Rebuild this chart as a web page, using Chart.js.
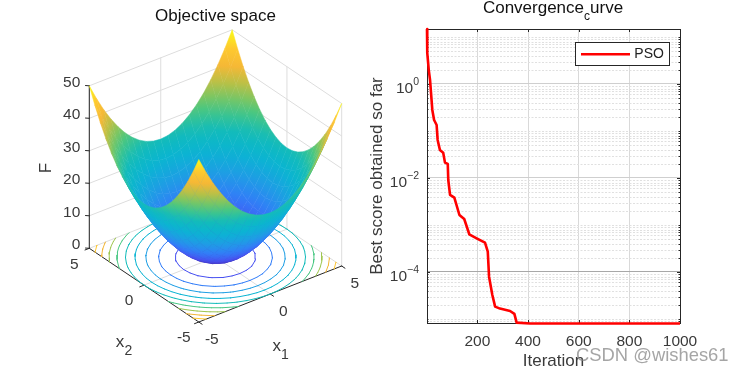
<!DOCTYPE html>
<html>
<head>
<meta charset="utf-8">
<title>Objective space / Convergence curve</title>
<script src="https://cdn.jsdelivr.net/npm/chart.js@4/dist/chart.umd.js"></script>
<style>
  html, body { margin: 0; padding: 0; background: #fff; overflow: hidden; }
  #space { position: absolute; left: 0; top: 0; }
  #curve { position: absolute; left: 360px; top: 0; }
</style>
</head>
<body>
<canvas id="space" width="360" height="373"></canvas>
<canvas id="curve" width="382" height="373"></canvas>
<script>
// surface table
const x1Values = [-5, -4.5, -4, -3.5, -3, -2.5, -2, -1.5, -1, -0.5, 0, 0.5, 1, 1.5, 2, 2.5, 3, 3.5, 4, 4.5, 5];
const x2Values = [-5, -4.5, -4, -3.5, -3, -2.5, -2, -1.5, -1, -0.5, 0, 0.5, 1, 1.5, 2, 2.5, 3, 3.5, 4, 4.5, 5];
const surfaceF = [
  [50, 45.25, 41, 37.25, 34, 31.25, 29, 27.25, 26, 25.25, 25, 25.25, 26, 27.25, 29, 31.25, 34, 37.25, 41, 45.25, 50],
  [45.25, 40.5, 36.25, 32.5, 29.25, 26.5, 24.25, 22.5, 21.25, 20.5, 20.25, 20.5, 21.25, 22.5, 24.25, 26.5, 29.25, 32.5, 36.25, 40.5, 45.25],
  [41, 36.25, 32, 28.25, 25, 22.25, 20, 18.25, 17, 16.25, 16, 16.25, 17, 18.25, 20, 22.25, 25, 28.25, 32, 36.25, 41],
  [37.25, 32.5, 28.25, 24.5, 21.25, 18.5, 16.25, 14.5, 13.25, 12.5, 12.25, 12.5, 13.25, 14.5, 16.25, 18.5, 21.25, 24.5, 28.25, 32.5, 37.25],
  [34, 29.25, 25, 21.25, 18, 15.25, 13, 11.25, 10, 9.25, 9, 9.25, 10, 11.25, 13, 15.25, 18, 21.25, 25, 29.25, 34],
  [31.25, 26.5, 22.25, 18.5, 15.25, 12.5, 10.25, 8.5, 7.25, 6.5, 6.25, 6.5, 7.25, 8.5, 10.25, 12.5, 15.25, 18.5, 22.25, 26.5, 31.25],
  [29, 24.25, 20, 16.25, 13, 10.25, 8, 6.25, 5, 4.25, 4, 4.25, 5, 6.25, 8, 10.25, 13, 16.25, 20, 24.25, 29],
  [27.25, 22.5, 18.25, 14.5, 11.25, 8.5, 6.25, 4.5, 3.25, 2.5, 2.25, 2.5, 3.25, 4.5, 6.25, 8.5, 11.25, 14.5, 18.25, 22.5, 27.25],
  [26, 21.25, 17, 13.25, 10, 7.25, 5, 3.25, 2, 1.25, 1, 1.25, 2, 3.25, 5, 7.25, 10, 13.25, 17, 21.25, 26],
  [25.25, 20.5, 16.25, 12.5, 9.25, 6.5, 4.25, 2.5, 1.25, 0.5, 0.25, 0.5, 1.25, 2.5, 4.25, 6.5, 9.25, 12.5, 16.25, 20.5, 25.25],
  [25, 20.25, 16, 12.25, 9, 6.25, 4, 2.25, 1, 0.25, 0, 0.25, 1, 2.25, 4, 6.25, 9, 12.25, 16, 20.25, 25],
  [25.25, 20.5, 16.25, 12.5, 9.25, 6.5, 4.25, 2.5, 1.25, 0.5, 0.25, 0.5, 1.25, 2.5, 4.25, 6.5, 9.25, 12.5, 16.25, 20.5, 25.25],
  [26, 21.25, 17, 13.25, 10, 7.25, 5, 3.25, 2, 1.25, 1, 1.25, 2, 3.25, 5, 7.25, 10, 13.25, 17, 21.25, 26],
  [27.25, 22.5, 18.25, 14.5, 11.25, 8.5, 6.25, 4.5, 3.25, 2.5, 2.25, 2.5, 3.25, 4.5, 6.25, 8.5, 11.25, 14.5, 18.25, 22.5, 27.25],
  [29, 24.25, 20, 16.25, 13, 10.25, 8, 6.25, 5, 4.25, 4, 4.25, 5, 6.25, 8, 10.25, 13, 16.25, 20, 24.25, 29],
  [31.25, 26.5, 22.25, 18.5, 15.25, 12.5, 10.25, 8.5, 7.25, 6.5, 6.25, 6.5, 7.25, 8.5, 10.25, 12.5, 15.25, 18.5, 22.25, 26.5, 31.25],
  [34, 29.25, 25, 21.25, 18, 15.25, 13, 11.25, 10, 9.25, 9, 9.25, 10, 11.25, 13, 15.25, 18, 21.25, 25, 29.25, 34],
  [37.25, 32.5, 28.25, 24.5, 21.25, 18.5, 16.25, 14.5, 13.25, 12.5, 12.25, 12.5, 13.25, 14.5, 16.25, 18.5, 21.25, 24.5, 28.25, 32.5, 37.25],
  [41, 36.25, 32, 28.25, 25, 22.25, 20, 18.25, 17, 16.25, 16, 16.25, 17, 18.25, 20, 22.25, 25, 28.25, 32, 36.25, 41],
  [45.25, 40.5, 36.25, 32.5, 29.25, 26.5, 24.25, 22.5, 21.25, 20.5, 20.25, 20.5, 21.25, 22.5, 24.25, 26.5, 29.25, 32.5, 36.25, 40.5, 45.25],
  [50, 45.25, 41, 37.25, 34, 31.25, 29, 27.25, 26, 25.25, 25, 25.25, 26, 27.25, 29, 31.25, 34, 37.25, 41, 45.25, 50]
];
const contourLevels = [5, 10, 15, 20, 25, 30, 35, 40, 45];
const fTicks = [0, 10, 20, 30, 40, 50];
const x1Ticks = [-5, 0, 5];
const x2Ticks = [-5, 0, 5];

// convergence curve
const iterations = [1, 2, 8, 13, 18, 22, 29, 39, 43, 52, 65, 72, 83, 85, 92, 109, 129, 148, 168, 197, 230, 241, 246, 259, 270, 289, 329, 346, 355, 408, 1000];
const bestScore = [14.8, 4.57, 1.98, 1.22, 0.537, 0.28, 0.171, 0.134, 0.0645, 0.0394, 0.0345, 0.0212, 0.0199, 0.00906, 0.00435, 0.00381, 0.00163, 0.00134, 0.000634, 0.000521, 0.00042, 0.00027, 0.0000794, 0.0000324, 0.0000183, 0.0000166, 0.0000148, 0.0000128, 0.00000834, 0.00000802, 0.000008];
const iterationTicks = [200, 400, 600, 800, 1000];
const scoreExponents = [0, -2, -4];

const parula = [
  [62, 38, 168], [71, 80, 240], [50, 125, 248], [30, 158, 228], [10, 180, 210], [18, 187, 186],
  [72, 199, 130], [158, 197, 78], [243, 182, 55], [254, 198, 48], [249, 251, 21]
];
const FONT = '"Liberation Sans", Arial, sans-serif';
const INK = '#3a3a3a';

function fColor(f) {
  const t = Math.max(0, Math.min(1, f / 50)) * (parula.length - 1);
  const i = Math.min(parula.length - 2, Math.floor(t));
  const c = parula[i].map((v, k) => Math.round(v + (parula[i + 1][k] - v) * (t - i)));
  return `rgb(${c[0]},${c[1]},${c[2]})`;
}

// orthographic view of the left axes
function project(x1, x2, f) {
  return { x: 215.5 + 14.29 * x1 - 10.95 * x2, y: 257.15 - 5.6 * x1 - 7.37 * x2 - 3.25 * f };
}

function lineSet(points, color, width) {
  return {
    data: points.map((p) => (p ? project(p[0], p[1], p[2]) : { x: NaN, y: NaN })),
    showLine: true, pointRadius: 0, borderColor: color, borderWidth: width,
    borderCapStyle: 'round', tension: 0
  };
}

// each cell is painted with a gradient following F across it
function cellPaint(ctx) {
  const ds = ctx.dataset;
  const lo = Math.min(...ds.cellF), hi = Math.max(...ds.cellF);
  const flat = fColor((lo + hi) / 2);
  const sx = ctx.chart.scales.x, sy = ctx.chart.scales.y;
  if (!sx || !sy) return flat;
  const px = (p) => ({ x: sx.getPixelForValue(p.x), y: sy.getPixelForValue(p.y) });
  const [a, b, c, d] = ds.data.slice(0, 4).map(px);
  const [fa, fb, fc, fd] = ds.cellF;
  // mean edge vectors, so neighbouring cells meet evenly
  const dx1 = (b.x - a.x + c.x - d.x) / 2, dy1 = (b.y - a.y + c.y - d.y) / 2, df1 = (fb - fa + fc - fd) / 2;
  const dx2 = (d.x - a.x + c.x - b.x) / 2, dy2 = (d.y - a.y + c.y - b.y) / 2, df2 = (fd - fa + fc - fb) / 2;
  const det = dx1 * dy2 - dx2 * dy1;
  if (!Number.isFinite(det) || Math.abs(det) < 1) return flat;
  const ga = (df1 * dy2 - df2 * dy1) / det, gb = (dx1 * df2 - dx2 * df1) / det;
  const g2 = ga * ga + gb * gb;
  if (g2 < 1e-6) return flat;
  const mx = (a.x + b.x + c.x + d.x) / 4, my = (a.y + b.y + c.y + d.y) / 4, mf = (fa + fb + fc + fd) / 4;
  const s = (lo - mf) / g2, e = (hi - mf) / g2;
  const grad = ctx.chart.ctx.createLinearGradient(mx + ga * s, my + gb * s, mx + ga * e, my + gb * e);
  grad.addColorStop(0, fColor(lo));
  grad.addColorStop(0.5, fColor((lo + hi) / 2));
  grad.addColorStop(1, fColor(hi));
  return grad;
}

function buildSurface() {
  const cells = [];
  for (let j = 0; j < x2Values.length - 1; j++) {
    for (let i = 0; i < x1Values.length - 1; i++) {
      const corners = [[i, j], [i + 1, j], [i + 1, j + 1], [i, j + 1]];
      const pts = corners.map(([a, b]) => project(x1Values[a], x2Values[b], surfaceF[b][a]));
      cells.push({
        depth: 0.608 * (x1Values[i] + x1Values[i + 1]) + 0.794 * (x2Values[j] + x2Values[j + 1]),
        set: {
          data: [...pts, pts[0]],
          cellF: corners.map(([a, b]) => surfaceF[b][a]),
          showLine: true, pointRadius: 0, fill: 'shape', tension: 0,
          backgroundColor: cellPaint, borderColor: cellPaint, borderWidth: 0.5
        }
      });
    }
  }
  // the first dataset ends up on top, so nearest cells go first
  return cells.sort((p, q) => p.depth - q.depth).map((c) => c.set);
}

function buildContours() {
  return contourLevels.map((level) => {
    const pts = [];
    for (let j = 0; j < x2Values.length - 1; j++) {
      for (let i = 0; i < x1Values.length - 1; i++) {
        const c = [[i, j], [i + 1, j], [i + 1, j + 1], [i, j + 1]];
        const hits = [];
        for (let k = 0; k < 4; k++) {
          const p = c[k], q = c[(k + 1) % 4];
          const fp = surfaceF[p[1]][p[0]], fq = surfaceF[q[1]][q[0]];
          if ((fp < level) !== (fq < level)) {
            const t = (level - fp) / (fq - fp);
            hits.push([
              x1Values[p[0]] + (x1Values[q[0]] - x1Values[p[0]]) * t,
              x2Values[p[1]] + (x2Values[q[1]] - x2Values[p[1]]) * t,
              0
            ]);
          }
        }
        if (hits.length >= 2) pts.push(hits[0], hits[1], null);
      }
    }
    return lineSet(pts, fColor(level), 1);
  });
}

function buildFrame() {
  const grid = '#dddddd', axis = '#262626', sets = [];
  sets.push(lineSet([[-5, 5, 0], [-5, -5, 0], [5, -5, 0]], axis, 1));
  sets.push(lineSet([[-5, 5, 0], [-5, 5, 50]], axis, 1));
  fTicks.forEach((f) => {
    sets.push(lineSet([[-5, 5, f], [-5.15, 5.15, f]], axis, 1));
  });
  x1Ticks.forEach((v) => sets.push(lineSet([[v, -5, 0], [v, -5.3, 0]], axis, 1)));
  x2Ticks.forEach((v) => sets.push(lineSet([[-5, v, 0], [-5.3, v, 0]], axis, 1)));
  fTicks.forEach((f) => sets.push(lineSet([[-5, 5, f], [5, 5, f], [5, -5, f]], grid, 1)));
  [[-5, 5], [0, 5], [5, 5], [5, 0], [5, -5]].forEach((c) => {
    sets.push(lineSet([[c[0], c[1], 0], [c[0], c[1], 50]], grid, 1));
  });
  sets.push(lineSet([[0, -5, 0], [0, 5, 0]], grid, 1));
  sets.push(lineSet([[-5, 0, 0], [5, 0, 0]], grid, 1));
  return sets;
}

function text(ctx, str, x, y, font, color, align) {
  ctx.font = font;
  ctx.fillStyle = color;
  ctx.textAlign = align || 'center';
  ctx.textBaseline = 'middle';
  ctx.fillText(str, x, y);
}

const spaceLabels = {
  id: 'spaceLabels',
  afterDraw(chart) {
    const ctx = chart.ctx, sx = chart.scales.x, sy = chart.scales.y;
    const tickFont = `15.5px ${FONT}`, labelFont = `17px ${FONT}`;
    const at = (x1, x2, f) => {
      const p = project(x1, x2, f);
      return { x: sx.getPixelForValue(p.x), y: sy.getPixelForValue(p.y) };
    };
    ctx.save();
    text(ctx, 'Objective space', 215.5, 16, `17px ${FONT}`, '#111', 'center');
    fTicks.forEach((f) => {
      const p = at(-5, 5, f);
      text(ctx, String(f), p.x - 9, p.y - 3.5, tickFont, INK, 'right');
    });
    x2Ticks.forEach((v) => {
      const p = at(-5, v, 0);
      text(ctx, String(v), p.x - 15, p.y + 16, tickFont, INK);
    });
    x1Ticks.forEach((v) => {
      const p = at(v, -5, 0);
      text(ctx, String(v), p.x + 13, p.y + 17.5, tickFont, INK);
    });
    text(ctx, 'x', 120, 342.3, labelFont, INK);
    text(ctx, '2', 128.5, 350.7, `14px ${FONT}`, INK);
    text(ctx, 'x', 276.7, 346.7, labelFont, INK);
    text(ctx, '1', 285, 355, `14px ${FONT}`, INK);
    ctx.translate(46.7, 168);
    ctx.rotate(-Math.PI / 2);
    text(ctx, 'F', 0, 0, labelFont, INK);
    ctx.restore();
  }
};

new Chart(document.getElementById('space'), {
  type: 'scatter',
  data: { datasets: [...buildSurface(), ...buildContours(), ...buildFrame()] },
  options: {
    responsive: false,
    animation: false,
    events: [],
    layout: { padding: 0 },
    plugins: { legend: { display: false }, tooltip: { enabled: false }, title: { display: false } },
    scales: {
      x: { type: 'linear', display: false, min: 0, max: 360 },
      y: { type: 'linear', display: false, min: 0, max: 373, reverse: true }
    }
  },
  plugins: [spaceLabels]
});

const curveDecor = {
  id: 'curveDecor',
  beforeDatasetsDraw(chart) {
    const ctx = chart.ctx, a = chart.chartArea, sx = chart.scales.x, sy = chart.scales.y;
    ctx.save();
    ctx.strokeStyle = '#e0e0e0';
    ctx.lineWidth = 1;
    ctx.setLineDash([2, 1.5]);
    sy.ticks.filter((t) => !t.major).forEach((t) => {
      const y = Math.round(sy.getPixelForValue(t.value)) + 0.5;
      ctx.beginPath();
      ctx.moveTo(a.left + 3, y);
      ctx.lineTo(a.right, y);
      ctx.stroke();
    });
    ctx.setLineDash([]);

    // box and inward ticks stay under the red line
    ctx.strokeStyle = '#262626';
    ctx.strokeRect(Math.round(a.left) + 0.5, Math.round(a.top) + 0.5, Math.round(a.width), Math.round(a.height));
    iterationTicks.forEach((v) => {
      const x = Math.round(sx.getPixelForValue(v)) + 0.5;
      ctx.beginPath();
      ctx.moveTo(x, a.top); ctx.lineTo(x, a.top + 3);
      ctx.moveTo(x, a.bottom); ctx.lineTo(x, a.bottom - 3);
      ctx.stroke();
    });
    sy.ticks.forEach((t) => {
      const y = Math.round(sy.getPixelForValue(t.value)) + 0.5;
      const len = t.major ? 3 : 1.5;
      ctx.beginPath();
      ctx.moveTo(a.left, y); ctx.lineTo(a.left + len, y);
      ctx.moveTo(a.right, y); ctx.lineTo(a.right - len, y);
      ctx.stroke();
    });
    ctx.restore();
  },
  afterDraw(chart) {
    const ctx = chart.ctx, a = chart.chartArea, sy = chart.scales.y;
    ctx.save();

    // power-of-ten labels with raised exponent
    const right = a.left - 8;
    scoreExponents.forEach((exp) => {
      const y = sy.getPixelForValue(Math.pow(10, exp));
      const sup = String(exp).replace('-', '\u2212');
      ctx.font = `10.5px ${FONT}`;
      const w = ctx.measureText(sup).width;
      text(ctx, sup, right, y - 2, `10.5px ${FONT}`, INK, 'right');
      text(ctx, '10', right - w, y + 5, `15.5px ${FONT}`, INK, 'right');
    });

    // title with the subscripted c
    const titleFont = `17px ${FONT}`, subFont = `12px ${FONT}`;
    ctx.font = titleFont;
    const w1 = ctx.measureText('Convergence').width, w3 = ctx.measureText('urve').width;
    ctx.font = subFont;
    const w2 = ctx.measureText('c').width;
    let tx = 193 - (w1 + w2 + w3) / 2;
    text(ctx, 'Convergence', tx, 8.5, titleFont, '#111', 'left');
    tx += w1;
    text(ctx, 'c', tx, 17, subFont, '#111', 'left');
    tx += w2;
    text(ctx, 'urve', tx, 8.5, titleFont, '#111', 'left');

    // legend
    ctx.fillStyle = '#fff';
    ctx.fillRect(215.5, 42.5, 94, 23);
    ctx.strokeStyle = '#262626';
    ctx.strokeRect(215.5, 42.5, 94, 23);
    ctx.strokeStyle = '#ff0000';
    ctx.lineWidth = 2.5;
    ctx.beginPath();
    ctx.moveTo(221, 54.3);
    ctx.lineTo(270, 54.3);
    ctx.stroke();
    text(ctx, chart.data.datasets[0].label, 274.3, 54.5, `14px ${FONT}`, '#222', 'left');

    // watermark
    text(ctx, 'CSDN @wishes61', 216, 355.5, `18.4px ${FONT}`, 'rgba(130,130,130,0.72)', 'left');
    ctx.restore();
  }
};

new Chart(document.getElementById('curve'), {
  type: 'line',
  data: {
    datasets: [{
      label: 'PSO',
      data: iterations.map((v, i) => ({ x: v, y: bestScore[i] })),
      borderColor: '#ff0000',
      borderWidth: 2.6,
      pointRadius: 0,
      tension: 0,
      clip: false,
      borderJoinStyle: 'round'
    }]
  },
  options: {
    responsive: false,
    animation: false,
    events: [],
    layout: { padding: { top: 29, right: 62 } },
    plugins: { legend: { display: false }, tooltip: { enabled: false }, title: { display: false } },
    scales: {
      x: {
        type: 'linear',
        min: 1,
        max: 1000,
        border: { display: false },
        afterBuildTicks: (scale) => { scale.ticks = iterationTicks.map((v) => ({ value: v })); },
        afterFit: (scale) => { scale.height = 50; },
        grid: { color: '#d9d9d9', lineWidth: 1, drawTicks: false },
        ticks: {
          color: INK, font: { family: FONT, size: 15.5 }, padding: 9, maxRotation: 0, autoSkip: false,
          callback: (v) => String(v)
        },
        title: { display: true, text: 'Iteration', color: INK, font: { family: FONT, size: 17 }, padding: { top: 0, bottom: 1 } }
      },
      y: {
        type: 'logarithmic',
        min: 0.0000082,
        max: 14.8,
        border: { display: false },
        afterBuildTicks: (scale) => {
          const list = [];
          for (let e = -6; e <= 1; e++) {
            for (let m = 1; m <= 9; m++) {
              const v = Number(`${m}e${e}`);
              if (v >= scale.min && v <= scale.max) list.push({ value: v, major: m === 1 && scoreExponents.includes(e) });
            }
          }
          scale.ticks = list;
        },
        afterFit: (scale) => { scale.width = 67; },
        grid: {
          drawTicks: false,
          lineWidth: 1,
          color: (c) => {
            if (!c.tick || !c.tick.major) return 'transparent';
            return c.tick.value === 1e-4 ? '#a8a8a8' : '#cfcfcf';
          }
        },
        ticks: { display: false },
        title: { display: true, text: 'Best score obtained so far', color: INK, font: { family: FONT, size: 17 }, padding: { top: 7, bottom: 0 } }
      }
    }
  },
  plugins: [curveDecor]
});
</script>
</body>
</html>
